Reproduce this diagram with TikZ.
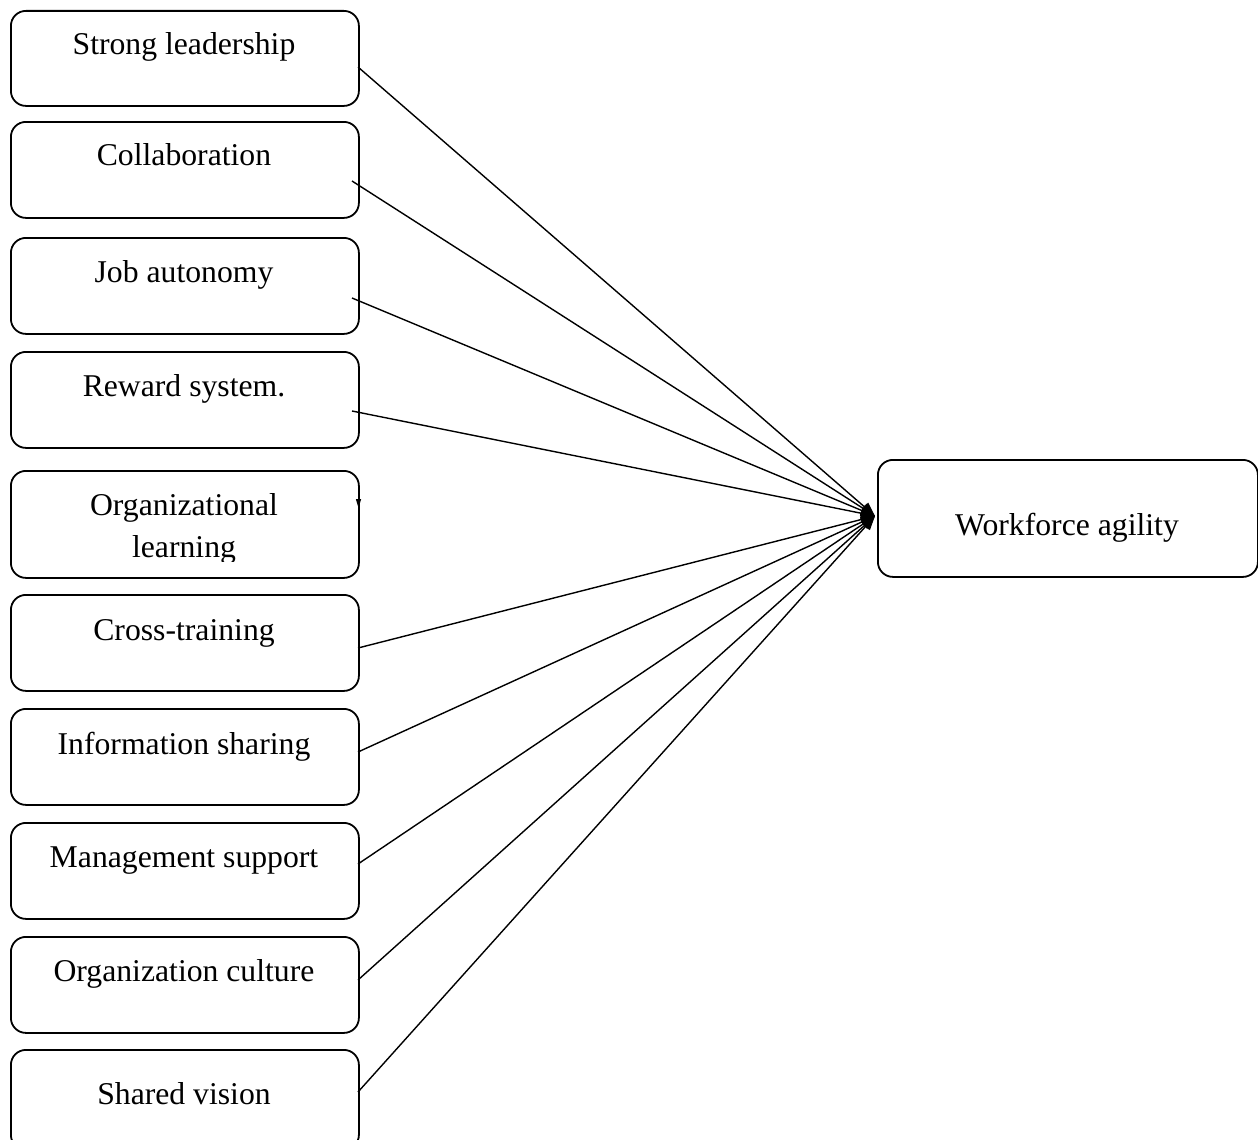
\documentclass[tikz,border=0pt]{standalone}
\usepackage{fontspec}
\setmainfont{Liberation Serif}
\usetikzlibrary{arrows.meta}
\begin{document}
\begin{tikzpicture}[x=1pt,y=-1pt,
  box/.style={draw=black,line width=1.8pt,rounded corners=15pt,minimum width=348pt,inner sep=0pt,anchor=north west},
  lbl/.style={anchor=base,inner sep=0pt,font=\fontsize{31.7}{36}\selectfont},
  arr/.style={line width=1.4pt,-{Triangle[length=14pt,width=11pt]}}]
\clip (0,0) rectangle (1258,1140);
\fill[white] (0,0) rectangle (1258,1140);
% left boxes
\node[box,minimum height=95pt] (b1) at (10,10) {};
\node[box,minimum height=96pt] (b2) at (10,121) {};
\node[box,minimum height=96pt] (b3) at (10,237) {};
\node[box,minimum height=96pt] (b4) at (10,351) {};
\node[box,minimum height=107pt] (b5) at (10,470) {};
\node[box,minimum height=96pt] (b6) at (10,594) {};
\node[box,minimum height=96pt] (b7) at (10,708) {};
\node[box,minimum height=96pt] (b8) at (10,822) {};
\node[box,minimum height=96pt] (b9) at (10,936) {};
\node[box,minimum height=100pt] (b10) at (10,1049) {};
% right box
\node[draw=black,line width=1.8pt,rounded corners=15pt,minimum width=380pt,minimum height=117pt,inner sep=0pt,anchor=north west] (wa) at (877,459) {};
% texts
\node[lbl] (t1) at (184,55) {Strong leadership};
\node[lbl] (t2) at (184,165) {Collaboration};
\node[lbl] (t3) at (184,282) {Job autonomy};
\node[lbl] (t4) at (184,396) {Reward system.};
\node[lbl] (t5) at (184,515) {Organizational};
\begin{scope}
\clip (10,470) rectangle (358,561);
\node[lbl] (t5b) at (184,557) {learning};
\end{scope}
\node[lbl] (t6) at (184,640) {Cross-training};
\node[lbl] (t7) at (184,754) {Information sharing};
\node[lbl] (t8) at (184,867) {Management support};
\node[lbl] (t9) at (184,981) {Organization culture};
\node[lbl] (t10) at (184,1104) {Shared vision};
\node[lbl] (twa) at (1067,535) {Workforce agility};
% connector ends
\coordinate (tip) at (875,516);
\coordinate (s1) at (358,67);
\coordinate (s2) at (352,181);
\coordinate (s3) at (352,298);
\coordinate (s4) at (352,411);
\coordinate (s6) at (358,648);
\coordinate (s7) at (358,752);
\coordinate (s8) at (358,864);
\coordinate (s9) at (358,980);
\coordinate (s10) at (358,1092);
\foreach \s in {s1,s2,s3,s4,s6,s7,s8,s9,s10}
  \draw[arr] (\s) -- (tip);
% tiny stray arrow at organizational learning box
\coordinate (o1) at (358.5,492);
\coordinate (o2) at (358.5,508);
\draw[line width=1pt,-{Triangle[length=9pt,width=5pt]}] (o1) -- (o2);
\end{tikzpicture}
\end{document}
